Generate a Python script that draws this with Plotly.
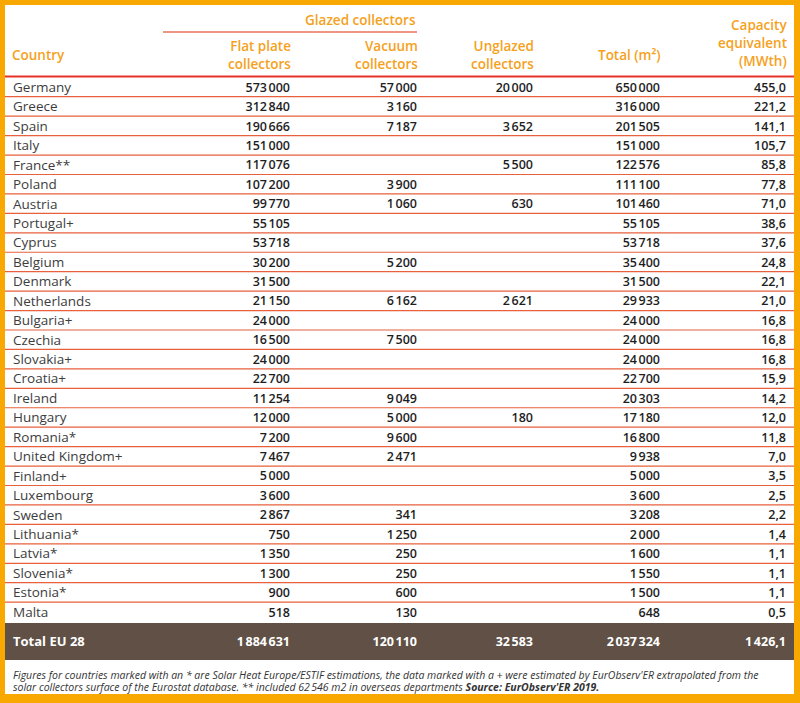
import numpy as np
import plotly.graph_objects as go

# ---------------------------------------------------------------------------
# Data
# ---------------------------------------------------------------------------
countries = [
    "Germany", "Greece", "Spain", "Italy", "France**", "Poland", "Austria",
    "Portugal+", "Cyprus", "Belgium", "Denmark", "Netherlands", "Bulgaria+",
    "Czechia", "Slovakia+", "Croatia+", "Ireland", "Hungary", "Romania*",
    "United Kingdom+", "Finland+", "Luxembourg", "Sweden", "Lithuania*",
    "Latvia*", "Slovenia*", "Estonia*", "Malta",
]
flat_plate = [
    573000, 312840, 190666, 151000, 117076, 107200, 99770, 55105, 53718,
    30200, 31500, 21150, 24000, 16500, 24000, 22700, 11254, 12000, 7200,
    7467, 5000, 3600, 2867, 750, 1350, 1300, 900, 518,
]
vacuum = [
    57000, 3160, 7187, None, None, 3900, 1060, None, None, 5200, None, 6162,
    None, 7500, None, None, 9049, 5000, 9600, 2471, None, None, 341, 1250,
    250, 250, 600, 130,
]
unglazed = [
    20000, None, 3652, None, 5500, None, 630, None, None, None, None, 2621,
    None, None, None, None, None, 180, None, None, None, None, None, None,
    None, None, None, None,
]
total_m2 = [
    650000, 316000, 201505, 151000, 122576, 111100, 101460, 55105, 53718,
    35400, 31500, 29933, 24000, 24000, 24000, 22700, 20303, 17180, 16800,
    9938, 5000, 3600, 3208, 2000, 1600, 1550, 1500, 648,
]
capacity = [
    455.0, 221.2, 141.1, 105.7, 85.8, 77.8, 71.0, 38.6, 37.6, 24.8, 22.1,
    21.0, 16.8, 16.8, 16.8, 15.9, 14.2, 12.0, 11.8, 7.0, 3.5, 2.5, 2.2, 1.4,
    1.1, 1.1, 1.1, 0.5,
]
total_label = "Total EU 28"
total_values = [1884631, 120110, 32583, 2037324]
total_capacity = 1426.1

# ---------------------------------------------------------------------------
# Style
# ---------------------------------------------------------------------------
FONT = "Open Sans, Noto Sans, sans-serif"
FRAME = "#F8A800"
HEAD = "#F5A11C"
RULE = "#E8603C"
RULE_HEAD = "#E5332A"
BROWN = "#605045"
TXT = "#3D3D3D"
NUM = "#1E1E1E"

W, H = 800, 703
ROW0, ROW_H = 87.0, 19.44
TEXT_DY = 1.5                       # scatter text sits a bit high otherwise
COL_X = [290, 417, 533, 660, 786]   # right edges of the numeric columns
NAME_X = 13


def fmt_int(v):
    return "" if v is None else f"{v:,}".replace(",", "\u202f")


def fmt_dec(v):
    return fmt_int(int(v)) + "," + f"{v:.1f}".split(".")[1]


rows_y = ROW0 + np.arange(len(countries)) * ROW_H

fig = go.Figure()

fig.add_trace(go.Scatter(
    x=[NAME_X] * len(countries), y=rows_y + TEXT_DY, text=countries,
    mode="text", textposition="middle right",
    textfont=dict(family=FONT, size=13.5, color=TXT),
    hoverinfo="skip",
))

columns = [
    [fmt_int(v) for v in flat_plate],
    [fmt_int(v) for v in vacuum],
    [fmt_int(v) for v in unglazed],
    [fmt_int(v) for v in total_m2],
    [fmt_dec(v) for v in capacity],
]
for cx, col in zip(COL_X, columns):
    fig.add_trace(go.Scatter(
        x=[cx] * len(col), y=rows_y + TEXT_DY, text=col, mode="text",
        textposition="middle left",
        textfont=dict(family=FONT, size=12.5, color=NUM, weight=600),
        hoverinfo="skip",
    ))

# total row
TOTAL_Y = 641.5 + TEXT_DY
total_texts = [fmt_int(v) for v in total_values] + [fmt_dec(total_capacity)]
fig.add_trace(go.Scatter(
    x=[NAME_X], y=[TOTAL_Y], text=[total_label], mode="text",
    textposition="middle right",
    textfont=dict(family=FONT, size=13, color="white", weight="bold"),
    hoverinfo="skip",
))
fig.add_trace(go.Scatter(
    x=COL_X, y=[TOTAL_Y] * len(COL_X), text=total_texts, mode="text",
    textposition="middle left",
    textfont=dict(family=FONT, size=12.5, color="white", weight="bold"),
    hoverinfo="skip",
))

# ---------------------------------------------------------------------------
# Frame, rules and band
# ---------------------------------------------------------------------------
shapes = [
    dict(type="rect", x0=5, x1=794, y0=5, y1=694, fillcolor="white",
         line_width=0, layer="below"),
    dict(type="rect", x0=5, x1=794, y0=623, y1=660, fillcolor=BROWN,
         line_width=0, layer="below"),
    dict(type="line", x0=163, x1=417, y0=32, y1=32,
         line=dict(color="#E8735A", width=1.5)),
    dict(type="line", x0=5, x1=794, y0=76.5, y1=76.5,
         line=dict(color=RULE_HEAD, width=2)),
]
for yb in rows_y[:-1] + ROW_H / 2:
    shapes.append(dict(type="line", x0=5, x1=794, y0=yb, y1=yb,
                       line=dict(color=RULE, width=1.2)))

# ---------------------------------------------------------------------------
# Header & footnote
# ---------------------------------------------------------------------------
hfont = dict(family=FONT, size=13.5, color=HEAD, weight=600)


def head(text, x, y, anchor="right"):
    return dict(text=text, x=x, y=y, xref="x", yref="y", xanchor=anchor,
                align=anchor, yanchor="middle", showarrow=False, font=hfont,
                borderpad=0)


annotations = [
    head("Glazed collectors", 417, 20),
    head("Country", NAME_X - 2, 55, "left"),
    head("Flat plate<br>collectors", COL_X[0] + 2, 55),
    head("Vacuum<br>collectors", COL_X[1] + 2, 55),
    head("Unglazed<br>collectors", COL_X[2] + 2, 55),
    head("Total (m²)", COL_X[3] + 2, 55),
    head("Capacity", COL_X[4] + 2, 25), head("equivalent", COL_X[4] + 2, 43),
    head("(MWth)", COL_X[4] + 2, 61),
]
note_font = dict(family=FONT, size=10.5, color="#333333")
notes = [
    "<i>Figures for countries marked with an * are Solar Heat Europe/ESTIF "
    "estimations, the data marked with a + were estimated by EurObserv'ER "
    "extrapolated from the</i>",
    "<i>solar collectors surface of the Eurostat database. ** included "
    "62\u202f546 m2 in overseas departments <b>Source: EurObserv'ER 2019.</b></i>",
]
for i, t in enumerate(notes):
    annotations.append(dict(text=t, x=NAME_X - 2, y=675 + i * 12,
                            xref="x", yref="y", xanchor="left",
                            yanchor="middle", showarrow=False, font=note_font))

fig.update_layout(
    width=W, height=H,
    margin=dict(l=0, r=0, t=0, b=0),
    paper_bgcolor=FRAME, plot_bgcolor=FRAME,
    showlegend=False,
    xaxis=dict(range=[0, W], visible=False, fixedrange=True),
    yaxis=dict(range=[H, 0], visible=False, fixedrange=True),
    shapes=shapes, annotations=annotations,
)

# the page body keeps its default 8px margin otherwise
fig.write_html("out.html", config={"displayModeBar": False},
               post_script="document.body.style.margin='0';")
